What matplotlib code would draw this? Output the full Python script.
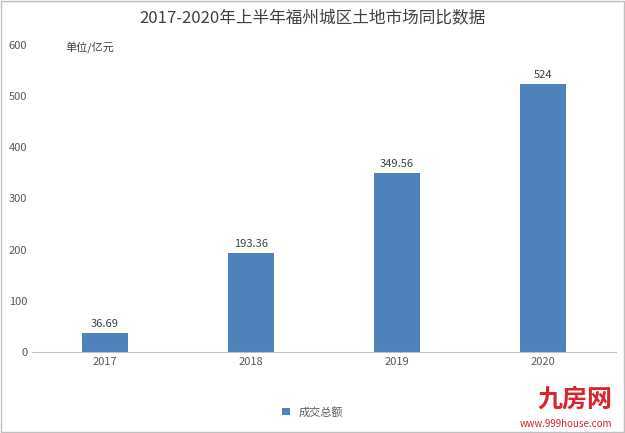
import matplotlib.pyplot as plt

plt.rcParams['font.family'] = ['Noto Sans CJK SC', 'DejaVu Sans']

years = ['2017', '2018', '2019', '2020']
values = [36.69, 193.36, 349.56, 524]
labels = ['36.69', '193.36', '349.56', '524']

fig = plt.figure(figsize=(6.25, 4.33), dpi=100)
ax = fig.add_axes([32 / 625, 81 / 433, 584 / 625, 307 / 433])
bars = ax.bar(range(len(years)), values, width=0.32, color='#4f81bd', label='成交总额')
for i, v in enumerate(values):
    ax.text(i, v + 8, labels[i], ha='center', va='bottom', fontsize=8, color='#404040')

ax.set_xlim(-0.5, 3.5)
ax.set_ylim(0, 600)
ax.set_xticks(range(len(years)))
ax.set_xticklabels(years)
ax.set_yticks(range(0, 601, 100))
ax.tick_params(length=0, labelsize=8, colors='#595959')
for s in ['top', 'right', 'left']:
    ax.spines[s].set_visible(False)
ax.spines['bottom'].set_color('#bfbfbf')

fig.text(0.5, 0.958, '2017-2020年上半年福州城区土地市场同比数据', ha='center', va='center',
         fontsize=12, color='#404040')
fig.text(65 / 625, 1 - 48 / 433, '单位/亿元', ha='left', va='center', fontsize=8, color='#404040')
fig.legend(loc='center', bbox_to_anchor=(0.5, 1 - 412 / 433), frameon=False, fontsize=8,
           handlelength=0.7, handleheight=0.7, labelcolor='#595959')
fig.text(0.98, 1 - 400 / 433, '九房网', ha='right', va='center', fontsize=18, color='#d9232d',
         fontweight='bold')
fig.text(0.98, 1 - 424 / 433, 'www.999house.com', ha='right', va='center', fontsize=7, color='#d9232d')
fig.patches.append(plt.Rectangle((0.002, 0.002), 0.996, 0.996, transform=fig.transFigure,
                                 fill=False, edgecolor='#bfbfbf', lw=1))

fig.savefig('out.png', dpi=100)
